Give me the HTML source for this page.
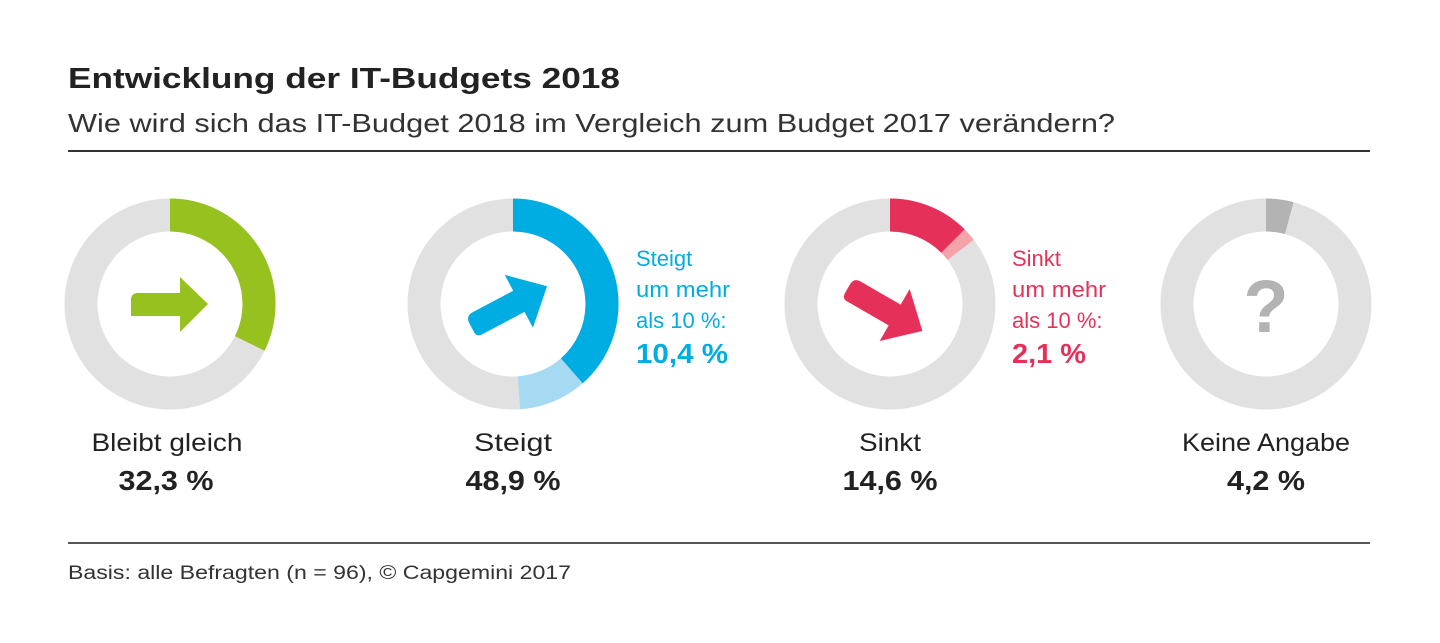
<!DOCTYPE html>
<html><head><meta charset="utf-8"><style>
html,body{margin:0;padding:0;background:#fff;}
svg{display:block;font-family:"Liberation Sans",sans-serif;}
</style></head><body>
<svg width="1440" height="643" viewBox="0 0 1440 643" xmlns="http://www.w3.org/2000/svg">
<rect width="1440" height="643" fill="#fff"/>
<text x="68" y="88" font-size="29" font-weight="bold" fill="#222" textLength="552" lengthAdjust="spacingAndGlyphs">Entwicklung der IT-Budgets 2018</text>
<text x="68" y="132" font-size="26" fill="#333" textLength="1047" lengthAdjust="spacingAndGlyphs">Wie wird sich das IT-Budget 2018 im Vergleich zum Budget 2017 verändern?</text>
<rect x="68" y="150" width="1302" height="2" fill="#333"/>
<rect x="68" y="542" width="1302" height="2" fill="#555"/>
<text x="68" y="579" font-size="19" fill="#333" textLength="503" lengthAdjust="spacingAndGlyphs">Basis: alle Befragten (n = 96), © Capgemini 2017</text>

<g fill="none" stroke-width="33">
<circle cx="170" cy="304" r="89" stroke="#e1e1e1"/>
<circle cx="170" cy="304" r="89" stroke="#96c11f" stroke-dasharray="180.6 1000" transform="rotate(-90 170 304)"/>
<circle cx="513" cy="304" r="89" stroke="#e1e1e1"/>
<circle cx="513" cy="304" r="89" stroke="#a6daf3" stroke-dasharray="273.4 1000" transform="rotate(-90 513 304)"/>
<circle cx="513" cy="304" r="89" stroke="#00ade2" stroke-dasharray="215.3 1000" transform="rotate(-90 513 304)"/>
<circle cx="890" cy="304" r="89" stroke="#e1e1e1"/>
<circle cx="890" cy="304" r="89" stroke="#f4a3ab" stroke-dasharray="81.6 1000" transform="rotate(-90 890 304)"/>
<circle cx="890" cy="304" r="89" stroke="#e5315a" stroke-dasharray="69.9 1000" transform="rotate(-90 890 304)"/>
<circle cx="1266" cy="304" r="89" stroke="#e1e1e1"/>
<circle cx="1266" cy="304" r="89" stroke="#b3b3b3" stroke-dasharray="23.5 1000" transform="rotate(-90 1266 304)"/>
</g>

<path d="M131,300 Q131,293 138,293 L180,293 L180,277 L208,304 L180,332 L180,316 L131,316 Z" fill="#96c11f"/>
<g transform="translate(510,306) rotate(-28)">
<path d="M-44,-4 Q-44,-12 -36,-12 L10,-12 L10,-30 L42,0 L10,30 L10,12 L-38,12 Q-44,12 -44,6 Z" fill="#00ade2"/>
</g>
<g transform="translate(886,310) rotate(30)">
<path d="M-44,-4 Q-44,-12 -36,-12 L10,-12 L10,-30 L42,0 L10,30 L10,12 L-38,12 Q-44,12 -44,6 Z" fill="#e5315a"/>
</g>
<text x="1266" y="332" font-size="74" font-weight="bold" fill="#b3b3b3" text-anchor="middle">?</text>

<g font-size="22" fill="#00ade2">
<text x="636" y="266">Steigt</text>
<text x="636" y="297" textLength="94" lengthAdjust="spacingAndGlyphs">um mehr</text>
<text x="636" y="328">als 10 %:</text>
<text x="636" y="363" font-size="28" font-weight="bold" textLength="92" lengthAdjust="spacingAndGlyphs">10,4 %</text>
</g>
<g font-size="22" fill="#e5315a">
<text x="1012" y="266">Sinkt</text>
<text x="1012" y="297" textLength="94" lengthAdjust="spacingAndGlyphs">um mehr</text>
<text x="1012" y="328">als 10 %:</text>
<text x="1012" y="363" font-size="28" font-weight="bold" textLength="74" lengthAdjust="spacingAndGlyphs">2,1 %</text>
</g>

<g text-anchor="middle" fill="#222">
<text x="167" y="451" font-size="25" textLength="151" lengthAdjust="spacingAndGlyphs">Bleibt gleich</text>
<text x="166" y="490" font-size="28" font-weight="bold" textLength="95" lengthAdjust="spacingAndGlyphs">32,3 %</text>
<text x="513" y="451" font-size="25" textLength="78" lengthAdjust="spacingAndGlyphs">Steigt</text>
<text x="513" y="490" font-size="28" font-weight="bold" textLength="95" lengthAdjust="spacingAndGlyphs">48,9 %</text>
<text x="890" y="451" font-size="25" textLength="62" lengthAdjust="spacingAndGlyphs">Sinkt</text>
<text x="890" y="490" font-size="28" font-weight="bold" textLength="95" lengthAdjust="spacingAndGlyphs">14,6 %</text>
<text x="1266" y="451" font-size="25" textLength="168" lengthAdjust="spacingAndGlyphs">Keine Angabe</text>
<text x="1266" y="490" font-size="28" font-weight="bold" textLength="78" lengthAdjust="spacingAndGlyphs">4,2 %</text>
</g>
</svg>
</body></html>
